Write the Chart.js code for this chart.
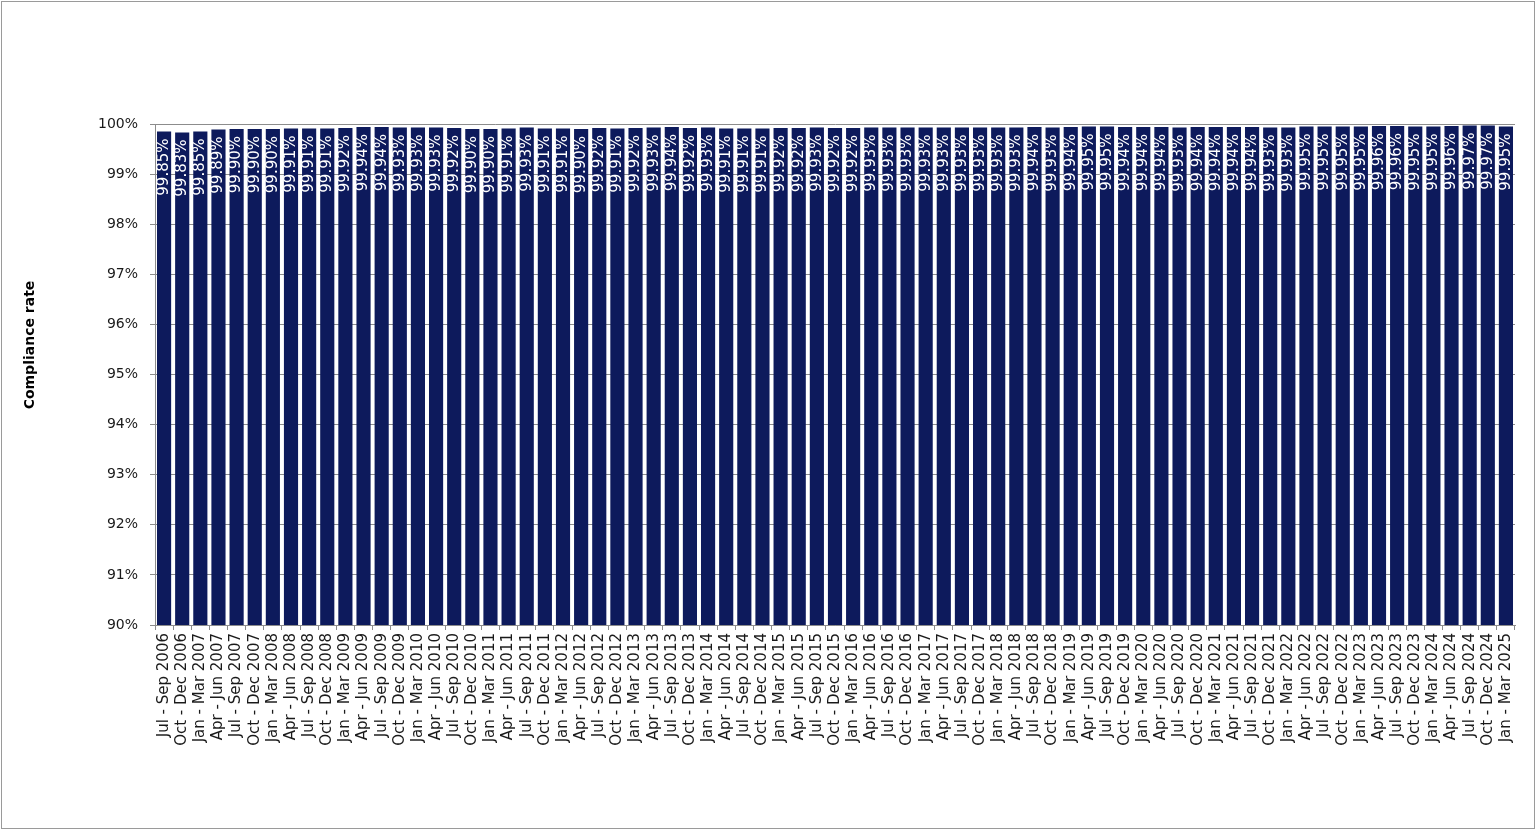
<!DOCTYPE html>
<html>
<head>
<meta charset="utf-8">
<title>Compliance rate</title>
<script src="https://cdn.jsdelivr.net/npm/chart.js@4.4.1/dist/chart.umd.min.js"></script>
<style>
  html, body { margin: 0; padding: 0; background: #fff; }
  canvas { display: block; }
</style>
</head>
<body>
<canvas id="chart" width="1536" height="831"></canvas>
<script>
// Quarters shown along the bottom
const quarters = [
  "Jul - Sep 2006", "Oct - Dec 2006",
  "Jan - Mar 2007", "Apr - Jun 2007", "Jul - Sep 2007", "Oct - Dec 2007",
  "Jan - Mar 2008", "Apr - Jun 2008", "Jul - Sep 2008", "Oct - Dec 2008",
  "Jan - Mar 2009", "Apr - Jun 2009", "Jul - Sep 2009", "Oct - Dec 2009",
  "Jan - Mar 2010", "Apr - Jun 2010", "Jul - Sep 2010", "Oct - Dec 2010",
  "Jan - Mar 2011", "Apr - Jun 2011", "Jul - Sep 2011", "Oct - Dec 2011",
  "Jan - Mar 2012", "Apr - Jun 2012", "Jul - Sep 2012", "Oct - Dec 2012",
  "Jan - Mar 2013", "Apr - Jun 2013", "Jul - Sep 2013", "Oct - Dec 2013",
  "Jan - Mar 2014", "Apr - Jun 2014", "Jul - Sep 2014", "Oct - Dec 2014",
  "Jan - Mar 2015", "Apr - Jun 2015", "Jul - Sep 2015", "Oct - Dec 2015",
  "Jan - Mar 2016", "Apr - Jun 2016", "Jul - Sep 2016", "Oct - Dec 2016",
  "Jan - Mar 2017", "Apr - Jun 2017", "Jul - Sep 2017", "Oct - Dec 2017",
  "Jan - Mar 2018", "Apr - Jun 2018", "Jul - Sep 2018", "Oct - Dec 2018",
  "Jan - Mar 2019", "Apr - Jun 2019", "Jul - Sep 2019", "Oct - Dec 2019",
  "Jan - Mar 2020", "Apr - Jun 2020", "Jul - Sep 2020", "Oct - Dec 2020",
  "Jan - Mar 2021", "Apr - Jun 2021", "Jul - Sep 2021", "Oct - Dec 2021",
  "Jan - Mar 2022", "Apr - Jun 2022", "Jul - Sep 2022", "Oct - Dec 2022",
  "Jan - Mar 2023", "Apr - Jun 2023", "Jul - Sep 2023", "Oct - Dec 2023",
  "Jan - Mar 2024", "Apr - Jun 2024", "Jul - Sep 2024", "Oct - Dec 2024",
  "Jan - Mar 2025"
];

// Compliance rate (%) per quarter
const complianceRates = [
  99.85, 99.83,
  99.85, 99.89, 99.90, 99.90,
  99.90, 99.91, 99.91, 99.91,
  99.92, 99.94, 99.94, 99.93,
  99.93, 99.93, 99.92, 99.90,
  99.90, 99.91, 99.93, 99.91,
  99.91, 99.90, 99.92, 99.91,
  99.92, 99.93, 99.94, 99.92,
  99.93, 99.91, 99.91, 99.91,
  99.92, 99.92, 99.93, 99.92,
  99.92, 99.93, 99.93, 99.93,
  99.93, 99.93, 99.93, 99.93,
  99.93, 99.93, 99.94, 99.93,
  99.94, 99.95, 99.95, 99.94,
  99.94, 99.94, 99.93, 99.94,
  99.94, 99.94, 99.94, 99.93,
  99.93, 99.95, 99.95, 99.95,
  99.95, 99.96, 99.96, 99.95,
  99.95, 99.96, 99.97, 99.97,
  99.95
];

// Value axis range
const yMin = 90;
const yMax = 100;
const yStep = 1;

const yTitle = "Compliance rate";

const FONT = "'DejaVu Sans', sans-serif";

//****************************************************************************/
//   Plugin: white page with grey frame and the axis title (sits above centre)
//****************************************************************************/
const framePlugin = {
  id: "frame",
  beforeDraw(chart) {
    const ctx = chart.ctx;
    ctx.save();
    ctx.fillStyle = "#ffffff";
    ctx.fillRect(0, 0, chart.width, chart.height);
    ctx.strokeStyle = "#9a9a9a";
    ctx.lineWidth = 1;
    ctx.strokeRect(1.5, 1.5, chart.width - 3, chart.height - 4);

    // Titulo del eje Y, un poco por encima del centro del area
    ctx.fillStyle = "#000000";
    ctx.font = "bold 14px " + FONT;
    ctx.textAlign = "center";
    ctx.textBaseline = "middle";
    ctx.translate(30, 345);
    ctx.rotate(-Math.PI / 2);
    ctx.fillText(yTitle, 0, 0);
    ctx.restore();
  },
};

//****************************************************************************/
//            Plugin: white value labels written up inside each bar
//****************************************************************************/
const barLabelPlugin = {
  id: "barLabels",
  afterDatasetsDraw(chart) {
    const ctx = chart.ctx;
    const meta = chart.getDatasetMeta(0);
    ctx.save();
    ctx.fillStyle = "#ffffff";
    ctx.font = "15px " + FONT;
    ctx.textAlign = "right";
    ctx.textBaseline = "middle";
    meta.data.forEach((bar, i) => {
      ctx.save();
      ctx.translate(bar.x, bar.y + 7);
      ctx.rotate(-Math.PI / 2);
      ctx.fillText(complianceRates[i].toFixed(2) + "%", 0, 0);
      ctx.restore();
    });
    ctx.restore();
  },
};

new Chart(document.getElementById("chart").getContext("2d"), {
  type: "bar",
  data: {
    labels: quarters,
    datasets: [{
      data: complianceRates,
      backgroundColor: "#0d1a5c",
      barPercentage: 0.78,
      categoryPercentage: 1.0,
    }],
  },
  options: {
    responsive: false,
    animation: false,
    layout: { padding: { left: 10, top: 124, right: 21, bottom: 6 } },
    plugins: {
      legend: { display: false },
      tooltip: { enabled: false },
    },
    scales: {
      x: {
        afterFit: (scale) => { scale.height = 200; },
        grid: {
          offset: true,
          drawOnChartArea: false,
          color: "#8c8c8c",
          tickLength: 5,
        },
        border: { color: "#8c8c8c" },
        ticks: {
          autoSkip: false,
          minRotation: 90,
          maxRotation: 90,
          padding: 3,
          color: "#1a1a1a",
          font: { family: FONT, size: 15 },
        },
      },
      y: {
        min: yMin,
        max: yMax,
        afterFit: (scale) => { scale.width = 145; },
        grid: { color: "#8c8c8c", tickLength: 5 },
        border: { color: "#8c8c8c" },
        ticks: {
          stepSize: yStep,
          padding: 12,
          color: "#1a1a1a",
          font: { family: FONT, size: 14 },
          callback: (v) => v + "%",
        },
      },
    },
  },
  plugins: [framePlugin, barLabelPlugin],
});
</script>
</body>
</html>
